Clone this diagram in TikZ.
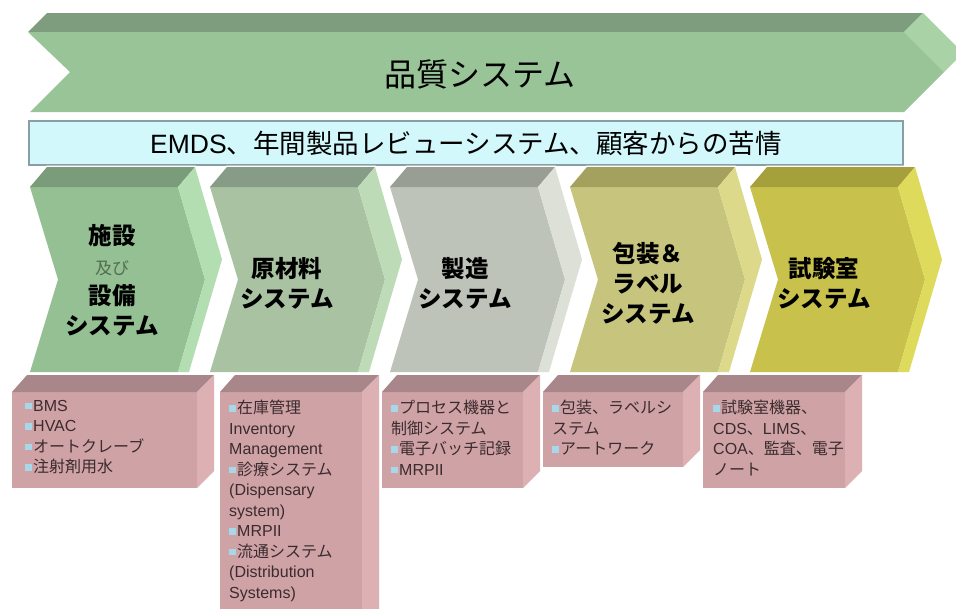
\documentclass[tikz,border=0pt]{standalone}
\usepackage{fontspec}
\setmainfont{Liberation Sans}
\newfontfamily\jp{Noto Sans CJK JP}
\definecolor{bigF}{HTML}{99C497}
\definecolor{bigT}{HTML}{7E9C7E}
\definecolor{bigS}{HTML}{A9D2A7}
\definecolor{cAF}{HTML}{95C093}
\definecolor{cAT}{HTML}{7A9C7A}
\definecolor{cAS}{HTML}{B3DEB1}
\definecolor{cBF}{HTML}{A8C2A2}
\definecolor{cBT}{HTML}{879C86}
\definecolor{cBS}{HTML}{BEDBB8}
\definecolor{cCF}{HTML}{BDC3B8}
\definecolor{cCT}{HTML}{999E95}
\definecolor{cCS}{HTML}{DCE0D7}
\definecolor{cDF}{HTML}{C6C47D}
\definecolor{cDT}{HTML}{A4A05E}
\definecolor{cDS}{HTML}{DCDA8A}
\definecolor{cEF}{HTML}{C8C24C}
\definecolor{cET}{HTML}{A59F3C}
\definecolor{cES}{HTML}{DEDB5C}
\definecolor{pkF}{HTML}{CFA3A6}
\definecolor{pkT}{HTML}{A98689}
\definecolor{pkS}{HTML}{DDB1B4}
\definecolor{pkText}{HTML}{3B2B2E}
\definecolor{bulc}{HTML}{A6D8EA}
\definecolor{emdsF}{HTML}{D2F8FC}
\definecolor{emdsB}{HTML}{8A9EA6}
\definecolor{oyobi}{HTML}{4F6E4F}
\newcommand{\J}[1]{{\jp #1}}
\newcommand{\bul}{\textcolor{bulc}{\rule[2pt]{6.5pt}{6.5pt}}\hspace{1.5pt}}
% small chevron: #1 x0, #2 front, #3 top, #4 side
\newcommand{\smallchev}[4]{%
  \filldraw[white, line width=3pt, line join=miter]
    (#1,187) -- ({#1+17},167) -- ({#1+165},167) -- ({#1+192},259.5)
    -- ({#1+159},372) -- (#1,372) -- ({#1+28},279.5) -- cycle;
  \fill[#2] (#1,187) -- ({#1+148},187) -- ({#1+175},279.5) -- ({#1+148},372)
    -- (#1,372) -- ({#1+28},279.5) -- cycle;
  \fill[#3] (#1,187) -- ({#1+17},167) -- ({#1+165},167) -- ({#1+148},187) -- cycle;
  \fill[#4] ({#1+148},187) -- ({#1+165},167) -- ({#1+192},259.5) -- ({#1+159},372)
    -- ({#1+148},372) -- ({#1+175},279.5) -- cycle;
}
% pink box: #1 left, #2 right, #3 bottom
\newcommand{\pinkbox}[3]{%
  \fill[pkF] (#1,392) rectangle (#2,#3);
  \fill[pkT] (#1,392) -- ({#1+15},375) -- ({#2+17},375) -- (#2,392) -- cycle;
  \fill[pkS] (#2,392) -- ({#2+17},375) -- ({#2+17},{#3-17}) -- (#2,#3) -- cycle;
}
\tikzset{
  chevlabel/.style={align=center, text=black, font=\jp\bfseries\fontsize{23.5}{30}\selectfont},
  boxtext/.style={anchor=north west, inner sep=0pt, align=left, text=pkText,
    font=\fontsize{16}{20.5}\selectfont},
}
\begin{document}
\begin{tikzpicture}[x=1pt,y=-1pt]
\clip (0,0) rectangle (956,608);
\fill[white] (0,0) rectangle (956,608);
% big chevron
\fill[bigT] (28,32) -- (47,13) -- (923,13) -- (904,32) -- cycle;
\fill[bigS] (904,32) -- (923,13) -- (963,53) -- (944,72) -- cycle;
\fill[bigF] (28,32) -- (904,32) -- (944,72) -- (904,112) -- (30,112) -- (70,72) -- cycle;
\node[font=\jp\fontsize{32}{38}\selectfont] (title) at (480,74) {品質システム};
% EMDS bar
\draw[fill=emdsF, draw=emdsB, line width=1.3pt] (29,121) rectangle (903,165);
\node[font=\fontsize{26.5}{30}\selectfont] (emds) at (466,143)
  {EMDS\J{、年間製品レビューシステム、顧客からの苦情}};
% chevrons
\smallchev{30}{cAF}{cAT}{cAS}
\smallchev{210}{cBF}{cBT}{cBS}
\smallchev{390}{cCF}{cCT}{cCS}
\smallchev{570}{cDF}{cDT}{cDS}
\smallchev{750}{cEF}{cET}{cES}
\node[chevlabel] (c1) at (112,280) {施設\\{\mdseries\fontsize{17}{30}\selectfont\color{oyobi}及び}\\設備\\システム};
\node[chevlabel] (c2) at (287,283) {原材料\\システム};
\node[chevlabel] (c3) at (465,283) {製造\\システム};
\node[chevlabel] (c4) at (648,283) {包装＆\\ラベル\\システム};
\node[chevlabel] (c5) at (824,283) {試験室\\システム};
% pink boxes
\pinkbox{12}{197}{488}
\pinkbox{220}{362}{640}
\pinkbox{382}{523}{488}
\pinkbox{543}{683}{467}
\pinkbox{703}{845}{488}
\node[boxtext] (b1) at (25,400) {\bul BMS\\ \bul HVAC\\ \bul\J{オートクレーブ}\\ \bul\J{注射剤用水}};
\node[boxtext] (b2) at (229,400) {\bul\J{在庫管理}\\ Inventory\\ Management\\ \bul\J{診療システム}\\ (Dispensary\\ system)\\ \bul MRPII\\ \bul\J{流通システム}\\ (Distribution\\ Systems)};
\node[boxtext] (b3) at (391,400) {\bul\J{プロセス機器と}\\ \J{制御システム}\\ \bul\J{電子バッチ記録}\\ \bul MRPII};
\node[boxtext] (b4) at (552,400) {\bul\J{包装、ラベルシ}\\ \J{ステム}\\ \bul\J{アートワーク}};
\node[boxtext] (b5) at (713,400) {\bul\J{試験室機器、}\\ CDS\J{、}LIMS\J{、}\\ COA\J{、監査、電子}\\ \J{ノート}};
\end{tikzpicture}
\end{document}
